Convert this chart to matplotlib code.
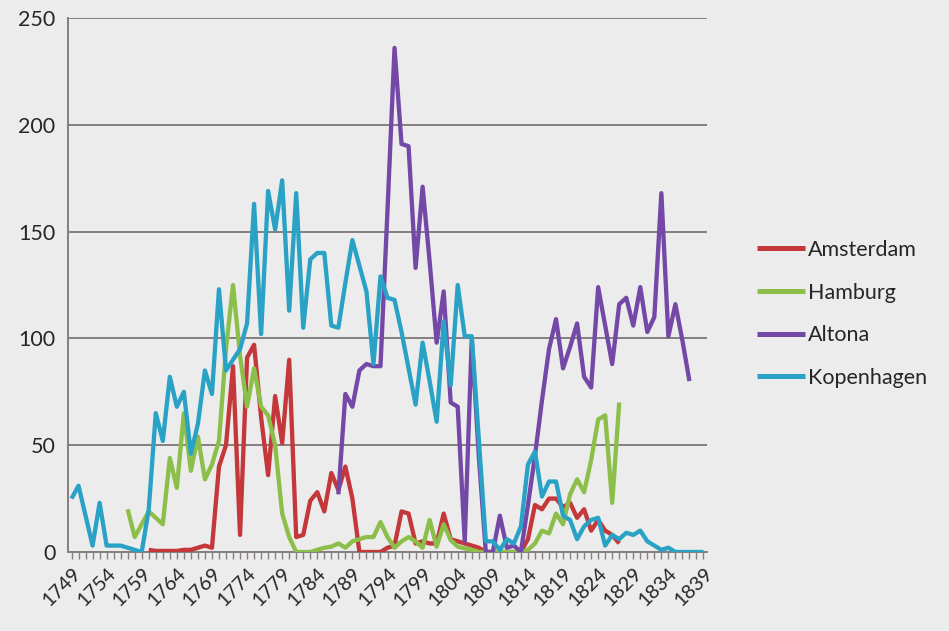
import numpy as np
import matplotlib
matplotlib.use('Agg')
import matplotlib.pyplot as plt
from matplotlib.ticker import FixedLocator

plt.rcParams['font.family'] = ['Lato', 'DejaVu Sans']

# ---------------- data ----------------
label_years = list(range(1749, 1840, 5))
y_ticks = [0, 50, 100, 150, 200, 250]

amsterdam_start = 1760
amsterdam = [1, 0.5, 0.5, 0.5, 0.5, 1, 1, 2, 3, 2,
             40, 50, 87, 8, 91, 97, 63, 36, 73, 51,
             90, 7, 8, 24, 28, 19, 37, 29, 40, 25,
             0, 0, 0, 0, 2, 3, 19, 18, 4, 5,
             4, 4, 18, 6, 5, 4, 3, 2, 0, 0,
             0, 0, 0, 0, 6, 22, 20, 25, 25, 21,
             23, 16, 20, 10, 15, 10, 8, 4]

hamburg_start = 1757
hamburg = [20, 7, 13, 19, 16, 13, 44, 30, 65, 38,
           54, 34, 41, 52, 95, 125, 92, 68, 86, 68,
           64, 50, 18, 7, 0, 0, 0, 1, 2, 2.5,
           4, 2, 5, 6, 7, 7, 14, 7, 2, 5,
           7, 5, 2, 15, 2.5, 13, 5.6, 2.5, 1.7, 1,
           0, 0, 0, 0, 0, 0, 0, 1, 4, 10,
           8.7, 18, 13, 27, 34, 28, 43, 62, 64, 23, 70]

altona_start = 1787
altona = [27, 74, 68, 85, 88, 87, 87, 160, 236, 191,
          190, 133, 171, 136, 98, 122, 70, 68, 5, 100,
          45, 0, 0, 17, 2, 3, 0, 22, 45, 71,
          95, 109, 86, 96, 107, 82, 77, 124, 106, 88,
          116, 119, 106, 124, 103, 110, 168, 101, 116, 99, 80]

kopenhagen_start = 1749
kopenhagen = [25, 31, 17, 3, 23, 3, 3, 3, 2, 1,
              0, 20, 65, 52, 82, 68, 75, 46, 60, 85,
              74, 123, 85, 90, 95, 107, 163, 102, 169, 151,
              174, 113, 168, 105, 137, 140, 140, 106, 105, 126,
              146, 134, 122, 88, 129, 119, 118, 103, 86, 69,
              98, 80, 61, 108, 78, 125, 101, 101, 53, 5,
              5, 1, 6, 4, 12, 41, 47, 26, 33, 33,
              17, 15, 6, 12, 15, 16, 3, 8, 6, 9,
              8, 10, 5, 3, 1, 2, 0, 0, 0, 0,
              0]

series = [
    ("Amsterdam", amsterdam_start, amsterdam, "#C4373A"),
    ("Hamburg", hamburg_start, hamburg, "#8CBF4A"),
    ("Altona", altona_start, altona, "#7448A6"),
    ("Kopenhagen", kopenhagen_start, kopenhagen, "#2AA2C6"),
]

# ---------------- figure ----------------
W, H = 949, 631
bg = "#ececec"
fig = plt.figure(figsize=(W / 100, H / 100), dpi=100, facecolor=bg)
ax = fig.add_axes([68 / W, 1 - 552 / H, (707 - 68) / W, (552 - 18) / H])
ax.set_facecolor(bg)

for name, start, vals, color in series:
    x = np.arange(start, start + len(vals))
    ax.plot(x, vals, color=color, lw=3.1, label=name,
            solid_joinstyle="round", solid_capstyle="butt", zorder=3)

ax.set_xlim(1748.5, 1839.5)
ax.set_ylim(0, 250)

grid_col = "#857f7f"
ax.set_yticks(y_ticks)
ax.yaxis.grid(True, color=grid_col, lw=1.4, zorder=1)
ax.set_axisbelow(True)

for s in ["top", "right"]:
    ax.spines[s].set_visible(False)
ax.spines["left"].set_color(grid_col)
ax.spines["left"].set_linewidth(1.4)
ax.spines["bottom"].set_color(grid_col)
ax.spines["bottom"].set_linewidth(1.4)

ax.xaxis.set_major_locator(FixedLocator(label_years))
ax.xaxis.set_minor_locator(FixedLocator(list(range(1749, 1840))))
ax.set_xticklabels([str(y) for y in label_years], rotation=45,
                   ha="right", va="top", rotation_mode="anchor")
ax.tick_params(axis="x", which="both", direction="out", length=5,
               width=1, color=grid_col, labelsize=14.3, labelcolor="#262626", pad=4)
ax.tick_params(axis="y", length=0, labelsize=15.5, labelcolor="#262626", pad=9)

leg = ax.legend(loc="upper left", bbox_to_anchor=(757 / W, 1 - 240 / H),
                bbox_transform=fig.transFigure, frameon=False, fontsize=15.5,
                handlelength=2.23, handletextpad=0.14, labelspacing=1.05,
                borderpad=0, borderaxespad=0)
for t in leg.get_texts():
    t.set_color("#262626")
for l in leg.get_lines():
    l.set_linewidth(3.6)

fig.savefig("out.png", dpi=100, facecolor=bg)
